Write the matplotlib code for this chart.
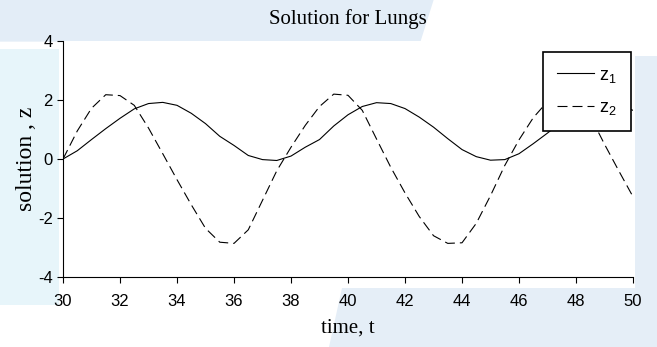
import matplotlib
matplotlib.use("Agg")
import matplotlib.pyplot as plt
from matplotlib import font_manager
from matplotlib.patches import Polygon

# time grid and the two solution components
t = [30.0, 30.5, 31.0, 31.5, 32.0, 32.5, 33.0, 33.5, 34.0, 34.5,
     35.0, 35.5, 36.0, 36.5, 37.0, 37.5, 38.0, 38.5, 39.0, 39.5,
     40.0, 40.5, 41.0, 41.5, 42.0, 42.5, 43.0, 43.5, 44.0, 44.5,
     45.0, 45.5, 46.0, 46.5, 47.0, 47.5, 48.0, 48.5, 49.0, 49.5, 50.0]
z1 = [0.00, 0.28, 0.66, 1.03, 1.38, 1.70, 1.88, 1.92, 1.82, 1.55,
      1.20, 0.77, 0.46, 0.12, -0.02, -0.05, 0.10, 0.40, 0.66, 1.12,
      1.50, 1.78, 1.91, 1.88, 1.71, 1.42, 1.08, 0.69, 0.32, 0.08,
      -0.04, -0.02, 0.18, 0.52, 0.88, 1.26, 1.60, 1.85, 1.92, 1.85, 1.65]
z2 = [0.00, 0.95, 1.72, 2.18, 2.15, 1.82, 1.05, 0.18, -0.70, -1.55,
      -2.35, -2.82, -2.86, -2.40, -1.40, -0.40, 0.40, 1.14, 1.78, 2.20,
      2.16, 1.65, 0.68, -0.28, -1.15, -1.95, -2.60, -2.86, -2.84, -2.18,
      -1.24, -0.22, 0.65, 1.40, 1.95, 2.20, 2.05, 1.45, 0.50, -0.40, -1.28]

xticks = [30, 32, 34, 36, 38, 40, 42, 44, 46, 48, 50]
yticks = [-4, -2, 0, 2, 4]

installed = {f.name for f in font_manager.fontManager.ttflist}
sans = "Liberation Sans Narrow" if "Liberation Sans Narrow" in installed else "Liberation Sans"
serif = "Liberation Serif"

plt.rcParams["axes.unicode_minus"] = False
plt.rcParams["mathtext.fontset"] = "custom"
plt.rcParams["mathtext.rm"] = sans
plt.rcParams["mathtext.it"] = sans

fig = plt.figure(figsize=(6.57, 3.47), dpi=100)

# pale page tint around the plot area
tint = [
    ([(0, 0.88), (0.64, 0.88), (0.66, 1), (0, 1)], "#e3edf7"),
    ([(0, 0.12), (0.09, 0.12), (0.09, 0.86), (0, 0.86)], "#e7f5fa"),
    ([(0.5, 0), (1, 0), (1, 0.17), (0.52, 0.17)], "#e5eef7"),
    ([(0.966, 0.17), (1, 0.17), (1, 0.84), (0.966, 0.84)], "#e5eef7"),
]
for pts, col in tint:
    fig.patches.append(Polygon(pts, closed=True, transform=fig.transFigure,
                               facecolor=col, edgecolor="none", zorder=-1))

ax = fig.add_axes([0.0959, 0.2017, 0.8676, 0.6801])
ax.set_facecolor("white")

ax.plot(t, z1, color="black", linewidth=0.8, label=r"z$_\mathregular{1}$")
ax.plot(t, z2, color="black", linewidth=0.8, dashes=(9, 4.5), label=r"z$_\mathregular{2}$")

ax.set_xlim(30, 50)
ax.set_ylim(-4, 4)
ax.set_xticks(xticks)
ax.set_yticks(yticks)
ax.spines["top"].set_visible(False)
ax.spines["right"].set_visible(False)
for s in ("left", "bottom"):
    ax.spines[s].set_linewidth(0.8)
ax.tick_params(direction="out", length=4.3, width=0.8, labelsize=12)
ax.tick_params(axis="x", pad=8)
ax.tick_params(axis="y", pad=3)
for lab in ax.get_xticklabels() + ax.get_yticklabels():
    lab.set_fontfamily(sans)

ax.set_title("Solution for Lungs", fontfamily=serif, fontsize=15, pad=12)
ax.set_xlabel("time, t", fontfamily=serif, fontsize=15, labelpad=7)
ax.set_ylabel("solution , z", fontfamily=serif, fontsize=17, labelpad=1)

leg = ax.legend(loc="upper left", bbox_to_anchor=(0.842, 0.953), borderaxespad=0,
                frameon=True, fancybox=False, framealpha=1, edgecolor="black",
                borderpad=0.8, labelspacing=0.8, handlelength=2.05, handletextpad=0.25,
                prop={"family": sans, "size": 13})
leg.get_frame().set_linewidth(1.2)

fig.savefig("out.png", dpi=100)
